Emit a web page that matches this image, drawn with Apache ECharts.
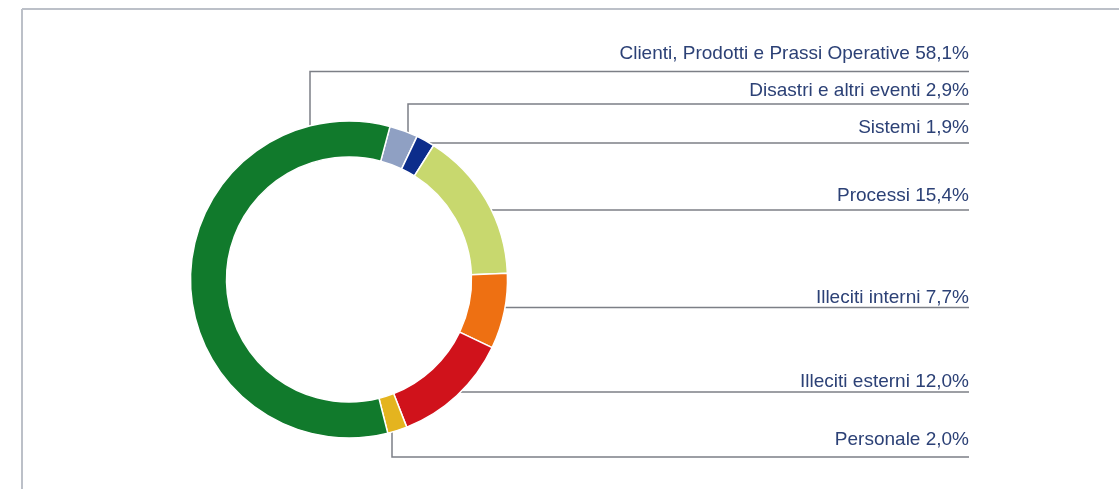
<!DOCTYPE html>
<html>
<head>
<meta charset="utf-8">
<title>Perdite operative per tipologia di evento</title>
<script src="https://cdn.jsdelivr.net/npm/echarts@6/dist/echarts.min.js"></script>
<style>
  html, body { margin: 0; padding: 0; background: #ffffff; }
  #chart { width: 1119px; height: 489px; }
</style>
</head>
<body>
<div id="chart"></div>
<script>
// Event types, listed clockwise starting just right of twelve o'clock
const categories = [
  'Disastri e altri eventi',
  'Sistemi',
  'Processi',
  'Illeciti interni',
  'Illeciti esterni',
  'Personale',
  'Clienti, Prodotti e Prassi Operative'
];
// Share of operational losses, percent
const shares = [2.9, 1.9, 15.4, 7.7, 12.0, 2.0, 58.1];
const sliceColors = ['#8fa0c3', '#0c2d8b', '#c8d86e', '#ee7012', '#d0121b', '#e4b41f', '#117a2c'];

// Ring geometry
const CX = 349, CY = 279.5, R_IN = 122.5, R_OUT = 158.5;
// Label rows: right edge of text/underline, underline y, text middle y
const LABEL_RIGHT = 969;
const lineYs = [104, 143, 210, 307.5, 392, 457, 71.5];
const textYs = [91, 127.5, 195.5, 298, 381.5, 439.5, 54];
// Leaders that drop vertically from the ring at a given x (null = run straight in from the ring edge)
const dropXs = [408, null, null, null, null, 392, 310];

function fmtPct(v) {
  return v.toFixed(1).replace('.', ',') + '%';
}

function leaderPoints(i) {
  const ly = lineYs[i];
  if (dropXs[i] !== null) {
    const x = dropXs[i];
    const h = Math.sqrt(Math.max(0, R_OUT * R_OUT - (x - CX) * (x - CX)));
    const yRing = ly < CY ? CY - h : CY + h;
    return [[x, yRing], [x, ly], [LABEL_RIGHT, ly]];
  }
  const w = Math.sqrt(Math.max(0, R_OUT * R_OUT - (ly - CY) * (ly - CY)));
  const xRing = CX + w;
  return [[xRing, ly], [(xRing + LABEL_RIGHT) / 2, ly], [LABEL_RIGHT, ly]];
}

const chart = echarts.init(document.getElementById('chart'), null, { renderer: 'canvas' });

chart.setOption({
  animation: false,
  backgroundColor: '#ffffff',
  graphic: [
    { type: 'line', shape: { x1: 22, y1: 9, x2: 1119, y2: 9 }, style: { stroke: '#bcc0c8', lineWidth: 2 }, silent: true },
    { type: 'line', shape: { x1: 22, y1: 9, x2: 22, y2: 489 }, style: { stroke: '#bcc0c8', lineWidth: 2 }, silent: true }
  ],
  series: [{
    type: 'pie',
    center: [CX, CY],
    radius: [R_IN, R_OUT],
    startAngle: 75,
    clockwise: true,
    avoidLabelOverlap: false,
    minShowLabelAngle: 0,
    emphasis: { disabled: true },
    itemStyle: { borderColor: '#ffffff', borderWidth: 1.5 },
    label: {
      show: true,
      position: 'outside',
      color: '#2c4176',
      fontFamily: 'Liberation Sans, Arial, sans-serif',
      fontSize: 19,
      formatter: function (p) { return p.name + ' ' + fmtPct(p.value); }
    },
    labelLine: {
      show: true,
      length: 10,
      length2: 10,
      smooth: false,
      lineStyle: { color: '#7c7f86', width: 1.5 }
    },
    labelLayout: function (params) {
      const i = params.dataIndex;
      return {
        x: LABEL_RIGHT,
        y: textYs[i],
        align: 'right',
        verticalAlign: 'middle',
        labelLinePoints: leaderPoints(i)
      };
    },
    data: categories.map(function (name, i) {
      return { name: name, value: shares[i], itemStyle: { color: sliceColors[i] } };
    })
  }]
});
</script>
</body>
</html>
